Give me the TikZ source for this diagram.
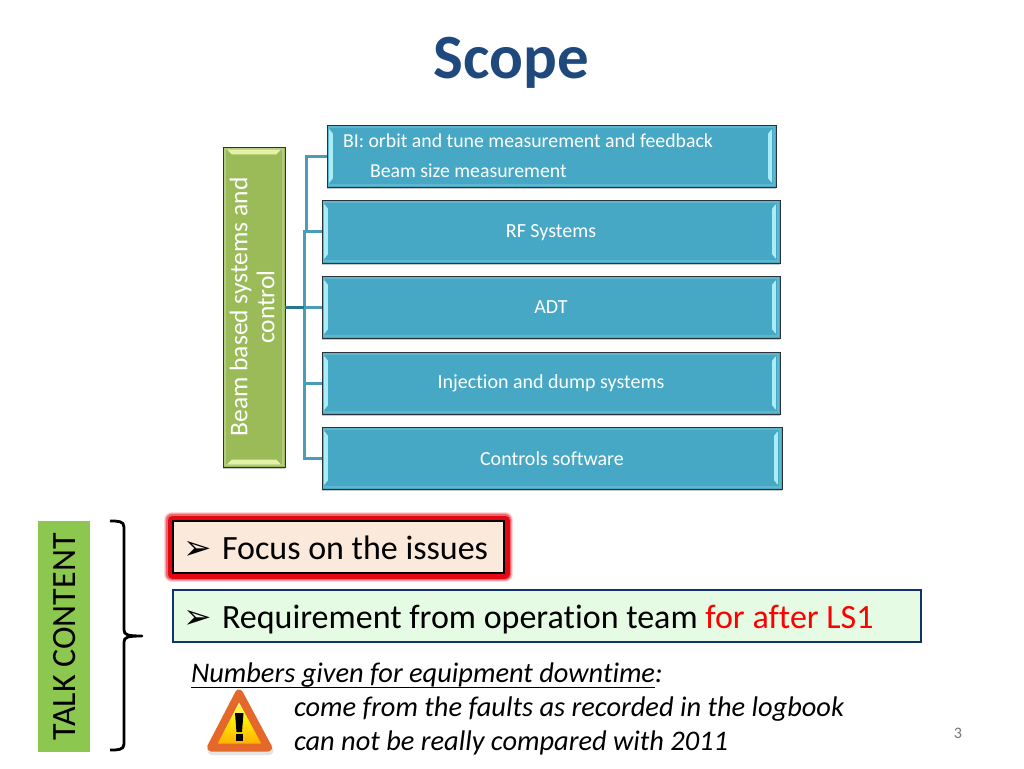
\documentclass[tikz,border=0pt]{standalone}
\usepackage{fontspec}
\setmainfont{Carlito}[Ligatures=CommonOff]
\newfontfamily\symfont{DejaVu Sans}
\usetikzlibrary{calc}
\definecolor{titleblue}{HTML}{1F497D}
\definecolor{boxblue}{HTML}{47A8C5}
\definecolor{boxedge}{HTML}{2A3438}
\definecolor{bevelblue}{HTML}{A8EDF8}
\definecolor{innerblue}{HTML}{5FB6CF}
\definecolor{linkblue}{HTML}{4A9DB9}
\definecolor{linkdark}{HTML}{2A7590}
\definecolor{rootgreen}{HTML}{9BBB59}
\definecolor{bevelgreen}{HTML}{E4F2A6}
\definecolor{talkgreen}{HTML}{8CC84F}
\definecolor{redfill}{HTML}{FBE9DC}
\definecolor{greenfill}{HTML}{E6FBE3}
\definecolor{navyedge}{HTML}{12326B}
\definecolor{glowred}{HTML}{E30613}
\definecolor{warnrim}{HTML}{E4682A}
\tikzset{
  px/.style={font=\fontsize{#1}{#1}\selectfont},
  branchbox/.style={draw=boxedge,fill=boxblue,line width=1pt,inner sep=0pt,outer sep=0pt},
  branchtext/.style={inner sep=0pt,text=white,px=20},
  bevelbar/.style={fill=bevelblue,draw=bevelblue,line width=.8pt,line join=round},
  bevelroot/.style={fill=bevelgreen,draw=bevelgreen,line width=.8pt,line join=round},
  innerline/.style={draw=innerblue,line width=1.2pt},
  link/.style={draw=linkblue,line width=3pt},
  freetext/.style={inner sep=0pt,outer sep=0pt,anchor=base west},
  bullet/.style={inner sep=0pt,outer sep=0pt,anchor=base west,font=\symfont\fontsize{34}{34}\selectfont},
}
\newcommand{\bevelb}[1]{%
  \draw[innerline] ([xshift=2pt,yshift=-2pt]#1.north west) rectangle ([xshift=-2pt,yshift=2pt]#1.south east);
  \filldraw[bevelbar] ([xshift=2.5pt,yshift=-5pt]#1.north west) -- ([xshift=5.5pt,yshift=-9pt]#1.north west) -- ([xshift=5.5pt,yshift=9pt]#1.south west) -- ([xshift=2.5pt,yshift=5pt]#1.south west) -- cycle;
  \filldraw[bevelbar] ([xshift=-4.5pt,yshift=-5pt]#1.north east) -- ([xshift=-7.5pt,yshift=-9pt]#1.north east) -- ([xshift=-7.5pt,yshift=9pt]#1.south east) -- ([xshift=-4.5pt,yshift=5pt]#1.south east) -- cycle;
}
\begin{document}
\begin{tikzpicture}[x=1pt,y=-1pt]
\useasboundingbox (0,0) rectangle (1024,768);
% title
\node[inner sep=0pt,text=titleblue,font=\fontsize{63}{66}\selectfont\bfseries] (title) at (511,62.5) {Scope};

% connector junctions
\coordinate (busa) at (304,307);
\coordinate (busb) at (306,230);

% branch boxes
\node[branchbox,minimum width=449pt,minimum height=62pt] (c1) at (551.5,156) {};
\node[branchbox,minimum width=458pt,minimum height=63pt] (c2) at (551,231.5) {};
\node[branchbox,minimum width=458pt,minimum height=62pt] (c3) at (551,307) {};
\node[branchbox,minimum width=458pt,minimum height=62pt] (c4) at (551,383) {};
\node[branchbox,minimum width=460pt,minimum height=62pt] (c5) at (552,458) {};
\node[draw=boxedge,fill=rootgreen,line width=1pt,inner sep=0pt,outer sep=0pt,minimum width=62pt,minimum height=320pt] (root) at (254,307) {};

% connectors
\draw[link] (busb) |- (c1.west);
\draw[link] (busa) -- (busa |- c2.west) -- (c2.west);
\draw[link] (busa) -- (c3.west);
\draw[link] (busa) |- (c4.west);
\draw[link] (busa) |- (c5.west);
\draw[draw=linkdark,line width=3pt] (root.east) -- (busa);

% shadows and bevels
\foreach \n in {c1,c2,c3,c4,c5,root}{\draw[draw=black,opacity=.22,line width=1.5pt] ([yshift=-1.5pt]\n.south west) -- ([yshift=-1.5pt]\n.south east);}
\bevelb{c1}\bevelb{c2}\bevelb{c3}\bevelb{c4}\bevelb{c5}
\draw[draw=rootgreen!75!white,line width=1.2pt] ([xshift=2pt,yshift=-2pt]root.north west) rectangle ([xshift=-2pt,yshift=2pt]root.south east);
\filldraw[bevelroot] ([xshift=5pt,yshift=-3pt]root.north west) -- ([xshift=-5pt,yshift=-3pt]root.north east) -- ([xshift=-9pt,yshift=-7pt]root.north east) -- ([xshift=9pt,yshift=-7pt]root.north west) -- cycle;
\filldraw[bevelroot] ([xshift=5pt,yshift=3pt]root.south west) -- ([xshift=-5pt,yshift=3pt]root.south east) -- ([xshift=-9pt,yshift=7pt]root.south east) -- ([xshift=9pt,yshift=7pt]root.south west) -- cycle;

% branch texts
\node[freetext,text=white,px=19.8] (c1a) at (343,147) {BI: orbit and tune measurement and feedback};
\node[freetext,text=white,px=19.8] (c1b) at (370,177) {Beam size measurement};
\node[branchtext] (c2t) at (551,232.5) {RF Systems};
\node[branchtext] (c3t) at (551,307.5) {ADT};
\node[branchtext] (c4t) at (551,383.5) {Injection and dump systems};
\node[branchtext] (c5t) at (552,459) {Controls software};
\node[inner sep=0pt,text=white,rotate=90,align=center,font=\fontsize{25.5}{27}\selectfont] (roott) at (252,307) {Beam based systems and\\control};

% talk content label
\node[fill=talkgreen,inner sep=0pt,outer sep=0pt,minimum width=52pt,minimum height=231pt] (talk) at (64,636.5) {};
\node[inner sep=0pt,rotate=90,text=black,font=\fontsize{34}{34}\selectfont] (talkt) at (65,637) {TALK CONTENT};

% brace
\draw[black,line width=2.8pt,line join=round] (110,521) .. controls (118,521) and (124,521) .. (124,527) -- (124,630) .. controls (124,635) and (128,636) .. (142,636) .. controls (128,636) and (124,637) .. (124,642) -- (124,744) .. controls (124,750) and (118,750) .. (110,750);

% red box
\foreach \w/\o in {16/.15,14/.25,12/.4}{\draw[glowred,opacity=\o,line width=\w pt,line join=round] (172,520) rectangle (505,574);}
\draw[glowred,line width=9pt,line join=round] (172,520) rectangle (505,574);
\node[draw=black,line width=1.3pt,fill=redfill,inner sep=0pt,outer sep=0pt,minimum width=331pt,minimum height=52pt] (focus) at (338.5,547) {};
\node[bullet] (focusb) at (183,559) {➢};
\node[freetext,px=34] (focust) at (222,559) {Focus on the issues};

% green box
\node[draw=navyedge,line width=2.4pt,fill=greenfill,inner sep=0pt,outer sep=0pt,minimum width=748pt,minimum height=52pt] (req) at (547,616) {};
\node[bullet] (reqb) at (183,628) {➢};
\node[freetext,px=34] (reqt) at (222,628) {Requirement from operation team \textcolor{red}{for after LS1}};

% notes
\node[freetext,px=28.4] (n1) at (191,682.5) {\itshape\underline{\smash{Numbers given for equipment downtime}\vrule depth 3pt width 0pt}:};
\node[freetext,px=28.4] (n2) at (294,716.5) {\itshape come from the faults as recorded in the logbook};
\node[freetext,px=28.4] (n3) at (294,750.5) {\itshape can not be really compared with 2011};

% warning sign
\draw[draw=black!30,opacity=.35,line join=round,line width=9pt] (239.5,695) -- (212,750.5) -- (269,750.5) -- cycle;
\draw[draw=warnrim,line width=8pt,line join=round,top color=yellow!25!white,bottom color=orange!70!yellow,middle color=yellow!85!orange] (239,693.5) -- (211,747.5) -- (268,747.5) -- cycle;
\fill[black] (235,713) -- (243.5,713) -- (242,732) -- (236.5,732) -- cycle;
\fill[black] (236,733.5) rectangle (243,740.5);

% page number
\node[inner sep=0pt,text=black!55,px=16] (page) at (958,733) {3};
\end{tikzpicture}
\end{document}
